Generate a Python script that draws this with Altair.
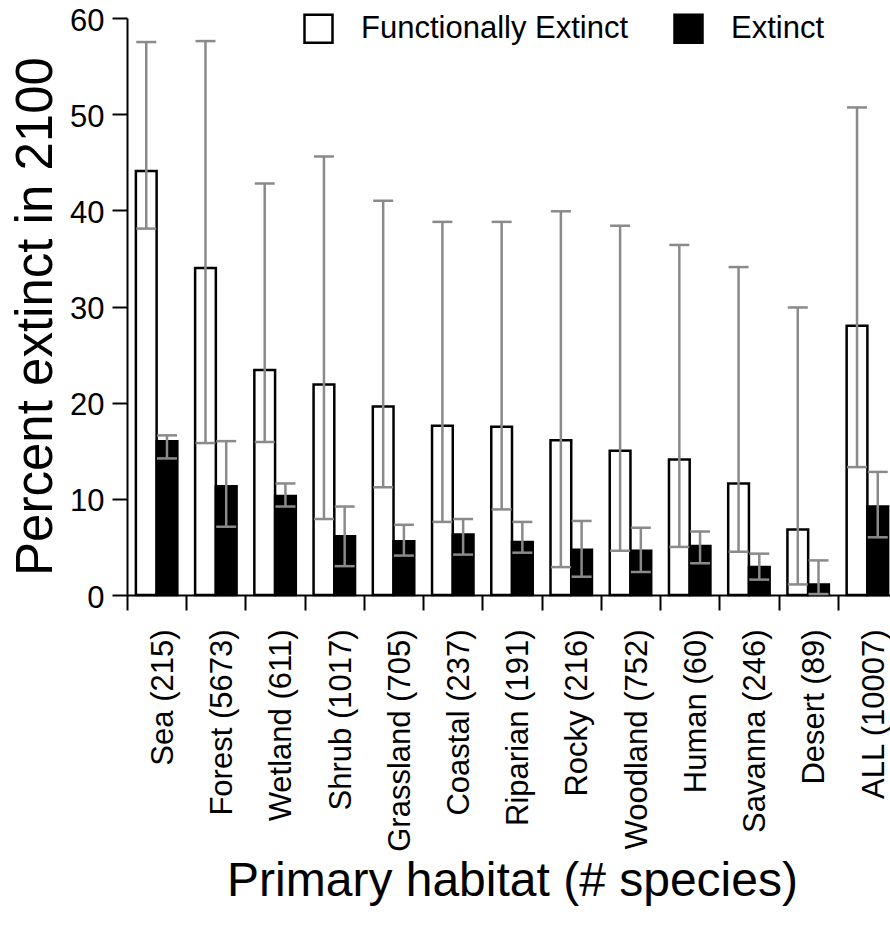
import altair as alt
import pandas as pd

# Primary habitat categories with species counts
habitats = [
    "Sea (215)", "Forest (5673)", "Wetland (611)", "Shrub (1017)",
    "Grassland (705)", "Coastal (237)", "Riparian (191)", "Rocky (216)",
    "Woodland (752)", "Human (60)", "Savanna (246)", "Desert (89)",
    "ALL (10007)",
]
series_names = ["Functionally Extinct", "Extinct"]

# Percent functionally extinct by 2100, with lower / upper bounds
func_pct = [44.1, 34.0, 23.4, 21.9, 19.6, 17.6, 17.5, 16.1, 15.0, 14.1, 11.6, 6.8, 28.0]
func_lo = [38.1, 15.8, 15.9, 7.9, 11.2, 7.6, 8.9, 2.9, 4.6, 5.0, 4.5, 1.1, 13.3]
func_hi = [57.5, 57.6, 42.8, 45.6, 41.0, 38.8, 38.8, 39.9, 38.4, 36.4, 34.1, 29.9, 50.7]

# Percent extinct by 2100, with lower / upper bounds
ext_pct = [16.0, 11.3, 10.3, 6.1, 5.6, 6.3, 5.5, 4.7, 4.6, 5.1, 2.9, 1.1, 9.2]
ext_lo = [14.2, 7.1, 9.2, 3.0, 4.1, 4.2, 4.4, 1.9, 2.4, 3.3, 1.6, 0.1, 6.0]
ext_hi = [16.6, 16.0, 11.6, 9.2, 7.3, 7.9, 7.6, 7.7, 7.0, 6.6, 4.3, 3.6, 12.8]

rows = []
for i, h in enumerate(habitats):
    rows.append(dict(habitat=h, series=series_names[0], pct=func_pct[i], lo=func_lo[i], hi=func_hi[i]))
    rows.append(dict(habitat=h, series=series_names[1], pct=ext_pct[i], lo=ext_lo[i], hi=ext_hi[i]))
df = pd.DataFrame(rows)

FONT = "Liberation Sans"
GREY = "#8a8a8a"
Y_TITLE = "Percent extinct in 2100"
X_TITLE = "Primary habitat (# species)"

x_scale = alt.Scale(range=[0, 770], paddingInner=0.3, paddingOuter=0.15)
x_axis = alt.Axis(
    title=X_TITLE, titleFontSize=48, titleFont=FONT, titleFontWeight="normal",
    titleColor="black", titleY=300, titleBaseline="alphabetic",
    labelAngle=270, labelAlign="right", labelBaseline="middle",
    labelFontSize=31, labelFont=FONT, labelColor="black", labelPadding=19,
    labelLimit=500, labelOverlap=False,
    tickSize=15, tickWidth=2, tickColor="black", tickOffset=-29.6, labelOffset=36.3,
    domainColor="black", domainWidth=2,
)
y_axis = alt.Axis(
    title=Y_TITLE, titleFontSize=51, titleFont=FONT, titleFontWeight="normal",
    titleColor="black", titleAngle=270, titleX=-76, titleY=298,
    titleAlign="center", titleBaseline="alphabetic",
    values=[0, 10, 20, 30, 40, 50, 60], grid=False,
    labelFontSize=31, labelFont=FONT, labelColor="black", labelPadding=8,
    labelOffset=3,
    tickSize=15, tickWidth=2, tickColor="black",
    domainColor="black", domainWidth=2,
)

x_enc = alt.X("habitat:N", sort=habitats, scale=x_scale, axis=x_axis)
xo_enc = alt.XOffset("series:N", sort=series_names,
                     scale=alt.Scale(domain=series_names, paddingInner=0, paddingOuter=0))
y_scale = alt.Scale(domain=[0, 60], nice=False, zero=True)

base = alt.Chart(df)

bars = base.mark_bar(stroke="black", strokeWidth=2.5).encode(
    x=x_enc,
    xOffset=xo_enc,
    y=alt.Y("pct:Q", scale=y_scale, axis=y_axis),
    color=alt.Color(
        "series:N",
        sort=series_names,
        scale=alt.Scale(domain=series_names, range=["white", "black"]),
        legend=alt.Legend(
            title=None, orient="none", legendX=176, legendY=-5,
            direction="horizontal", symbolType="square", symbolSize=784,
            symbolStrokeColor="black", symbolStrokeWidth=2.5,
            labelFontSize=31, labelFont=FONT, labelColor="black",
            labelOffset=27, columnPadding=40, padding=0, labelLimit=600,
        ),
    ),
)

whiskers = base.mark_rule(color=GREY, strokeWidth=2.5).encode(
    x=alt.X("habitat:N", sort=habitats),
    xOffset=alt.XOffset("series:N", sort=series_names),
    y=alt.Y("lo:Q", title=Y_TITLE),
    y2="hi:Q",
)

cap_hi = base.mark_tick(color=GREY, size=20, thickness=2.5, opacity=1).encode(
    x=alt.X("habitat:N", sort=habitats),
    xOffset=alt.XOffset("series:N", sort=series_names),
    y=alt.Y("hi:Q", title=Y_TITLE),
)

cap_lo = base.mark_tick(color=GREY, size=20, thickness=2.5, opacity=1).encode(
    x=alt.X("habitat:N", sort=habitats),
    xOffset=alt.XOffset("series:N", sort=series_names),
    y=alt.Y("lo:Q", title=Y_TITLE),
)

chart = (
    alt.layer(bars, whiskers, cap_hi, cap_lo)
    .properties(
        width=763,
        height=577,
        autosize=alt.AutoSizeParams(type="none"),
        padding={"left": 127, "top": 18, "right": 0, "bottom": 331},
        background="white",
    )
    .configure_view(stroke=None)
)

chart.save("out.html", embed_options={"renderer": "svg", "actions": False})
